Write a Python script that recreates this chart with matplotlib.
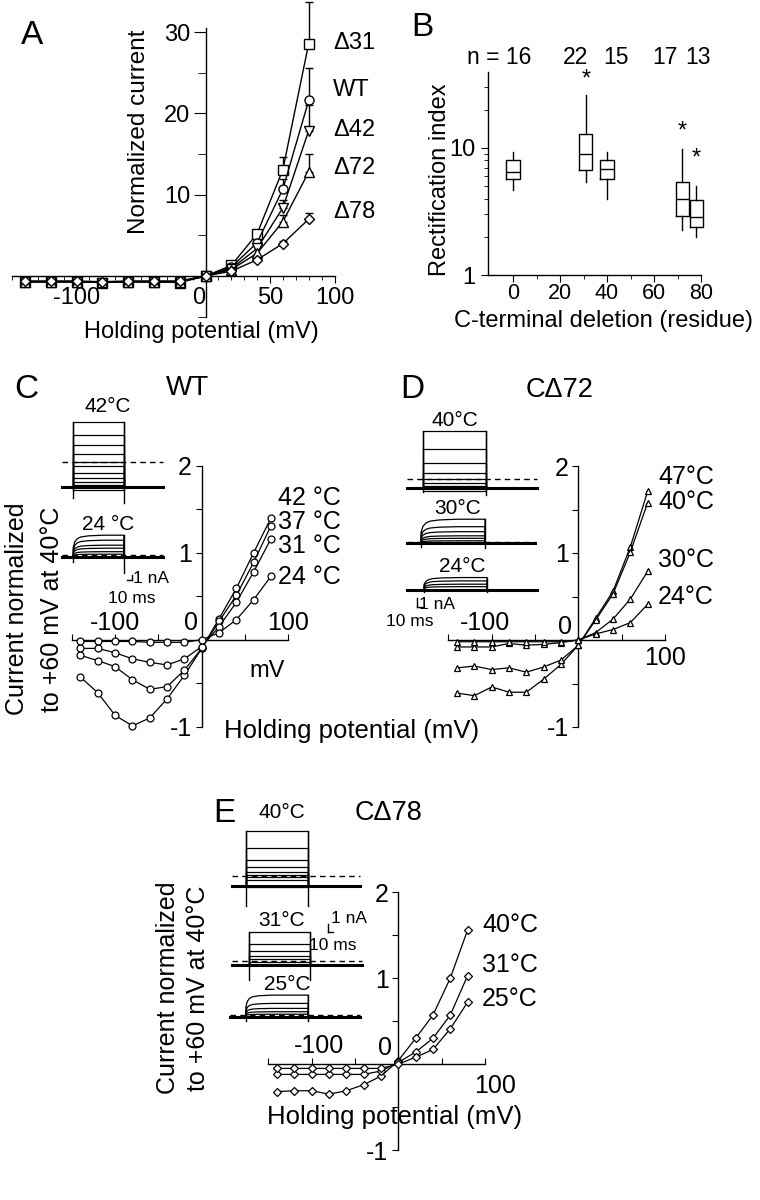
import matplotlib
matplotlib.use('Agg')
import matplotlib.pyplot as plt

plt.rcParams['font.family'] = ['Liberation Sans', 'DejaVu Sans']
plt.rcParams['axes.unicode_minus'] = False
plt.rcParams['axes.linewidth'] = 1.0

# ---------------- data ----------------
volt = [-140, -120, -100, -80, -60, -40, -20, 0, 20, 40, 60, 80]

# A: normalized current vs holding potential
a_names = ['Δ31', 'WT', 'Δ42', 'Δ72', 'Δ78']
a_markers = ['s', 'o', 'v', '^', 'D']
a_d31 = [-0.7, -0.7, -0.7, -0.8, -0.7, -0.7, -0.8, 0.0, 1.3, 5.2, 13.1, 28.6]
a_wt = [-0.7, -0.7, -0.7, -0.8, -0.7, -0.7, -0.7, 0.0, 1.1, 4.1, 10.7, 21.6]
a_d42 = [-0.7, -0.7, -0.7, -0.8, -0.7, -0.7, -0.7, 0.0, 0.9, 3.4, 8.4, 17.9]
a_d72 = [-0.7, -0.7, -0.7, -0.7, -0.7, -0.7, -0.7, 0.0, 0.8, 2.8, 6.7, 12.8]
a_d78 = [-0.6, -0.6, -0.6, -0.7, -0.6, -0.6, -0.6, 0.0, 0.6, 2.0, 4.0, 7.0]
a_err60 = [1.6, 1.2, 1.0, 0.8, 0.3]
a_err80 = [5.1, 4.0, 3.1, 2.2, 0.8]

# B: rectification index box plots
b_pos = [0, 31, 40, 72, 78]
b_whislo = [4.65, 5.4, 3.95, 2.26, 2.0]
b_q1 = [5.74, 6.68, 5.67, 2.91, 2.4]
b_med = [6.44, 9.0, 6.8, 3.95, 2.87]
b_q3 = [8.0, 12.97, 8.1, 5.41, 3.88]
b_whishi = [9.3, 26.2, 9.3, 9.88, 5.0]
b_star = [None, 34.4, None, 13.4, 8.25]
b_n = ['n = 16', '22', '15', '17', '13']

# C: WT at several temperatures
c_temps = ['42 °C', '37 °C', '31 °C', '24 °C']
c42 = [-0.43, -0.61, -0.87, -0.99, -0.90, -0.68, -0.41, -0.10, 0.24, 0.59, 1.00, 1.40]
c37 = [-0.18, -0.24, -0.31, -0.46, -0.57, -0.54, -0.35, -0.10, 0.21, 0.51, 0.89, 1.31]
c31 = [-0.10, -0.10, -0.15, -0.22, -0.26, -0.29, -0.22, -0.08, 0.15, 0.43, 0.78, 1.16]
c24 = [-0.02, -0.02, -0.02, -0.02, -0.03, -0.03, -0.03, 0.0, 0.08, 0.23, 0.46, 0.73]

# D: C-delta72
d_temps = ['47°C', '40°C', '30°C', '24°C']
d47 = [-0.61, -0.64, -0.54, -0.60, -0.60, -0.45, -0.28, -0.06, 0.25, 0.56, 1.07, 1.71]
d40 = [-0.32, -0.30, -0.34, -0.32, -0.37, -0.31, -0.23, -0.06, 0.23, 0.53, 1.01, 1.58]
d30 = [-0.08, -0.08, -0.08, -0.04, -0.06, -0.05, -0.03, 0.0, 0.085, 0.24, 0.47, 0.79]
d24 = [-0.02, -0.02, -0.02, -0.02, -0.02, -0.02, -0.02, 0.0, 0.07, 0.12, 0.20, 0.41]

# E: C-delta78
e_temps = ['40°C', '31°C', '25°C']
e40 = [-0.32, -0.31, -0.31, -0.35, -0.31, -0.24, -0.14, 0.04, 0.30, 0.57, 1.00, 1.56]
e31 = [-0.12, -0.12, -0.12, -0.12, -0.12, -0.12, -0.08, 0.02, 0.14, 0.30, 0.57, 1.03]
e25 = [-0.05, -0.05, -0.05, -0.05, -0.05, -0.05, -0.05, 0.0, 0.08, 0.17, 0.41, 0.72]

# current trace families: steady step levels (nA above holding baseline)
c42_levels = [12.9, 10.3, 8.3, 6.5, 4.9, 4.1, 2.7, 1.7, 1.0, 0.3, -0.6]
c24_levels = [4.3, 3.3, 2.3, 1.7, 1.0, 0.5]
d40_levels = [6.9, 4.7, 3.1, 1.9, 1.1, 0.6, 0.3, -0.3]
d30_levels = [2.9, 2.0, 1.4, 0.9, 0.6, 0.3]
d24_levels = [1.5, 1.1, 0.7, 0.4]
e40_levels = [6.6, 4.6, 3.1, 2.3, 1.7, 1.3, 1.0, 0.7, -0.2]
e31_levels = [4.0, 2.5, 1.7, 1.1, 0.7, 0.4]
e25_levels = [2.6, 1.6, 1.0, 0.6, 0.3]
# activation time course (fraction of steady level vs ms after onset)
rise_ms = [0, 3, 8, 15, 30, 60]
rise_frac = [0.45, 0.7, 0.84, 0.92, 0.97, 1.0]

# ---------------- figure ----------------
W, H = 760, 1200
fig = plt.figure(figsize=(7.6, 12), dpi=100)


def box(l, t, r, b):
    return [l / W, 1 - b / H, (r - l) / W, (b - t) / H]


def ftext(x, y, s, size=17, **kw):
    kw.setdefault('ha', 'center')
    kw.setdefault('va', 'center')
    fig.text(x / W, 1 - y / H, s, fontsize=size, **kw)


def clean(ax):
    ax.patch.set_visible(False)
    ax.spines['top'].set_visible(False)
    ax.spines['right'].set_visible(False)


# ---- A ----
axA = fig.add_axes(box(12, -0.4, 334.5, 316.7))
clean(axA)
axA.set_xlim(-150, 100)
axA.set_ylim(-5, 34)
axA.spines['left'].set_position(('data', 0))
axA.spines['bottom'].set_position(('data', 0))
axA.spines['left'].set_bounds(-5, 30.5)
axA.set_xticks([-100, 0, 50, 100])
axA.set_xticklabels(['-100', '0', '50', '100'])
axA.set_xticks(range(-150, 101, 10), minor=True)
axA.set_yticks([10, 20, 30])
axA.set_yticks([-5, 5, 15, 25], minor=True)
axA.tick_params(axis='x', which='major', direction='out', length=5, labelsize=17, pad=3)
axA.tick_params(axis='x', which='minor', direction='out', length=3)
axA.tick_params(axis='y', which='major', direction='out', length=9, labelsize=17, pad=2)
axA.tick_params(axis='y', which='minor', direction='out', length=6)
axA.get_xticklabels()[1].set_ha('right')
a_series = [a_d31, a_wt, a_d42, a_d72, a_d78]
for i, ys in enumerate(a_series):
    axA.errorbar([60, 80], [ys[10], ys[11]], yerr=[[0, 0], [a_err60[i], a_err80[i]]],
                 fmt='none', ecolor='k', elinewidth=1, capsize=3, capthick=1, clip_on=False)
    ms = 5.5 if a_markers[i] == 'D' else 6.5
    axA.plot(volt, ys, '-', color='k', lw=1, marker=a_markers[i], ms=ms, mfc='white',
             mec='k', mew=1, clip_on=False, zorder=3)
for name, y in zip(a_names, [42.7, 90, 130, 168.3, 211.7]):
    ftext(333, y, name, 17, ha='left')
ftext(139, 132, 'Normalized current', 17.5, rotation=90)
ftext(201, 332, 'Holding potential (mV)', 17)
ftext(32, 36, 'A', 24)

# ---- B ----
axB = fig.add_axes(box(488.1, 71.5, 705.7, 275))
clean(axB)
axB.set_yscale('log')
axB.set_xlim(-10.6, 82)
axB.set_ylim(1, 40)
axB.spines['bottom'].set_bounds(-10.6, 80)
stats = [dict(med=m, q1=q1, q3=q3, whislo=lo, whishi=hi, fliers=[])
         for m, q1, q3, lo, hi in zip(b_med, b_q1, b_q3, b_whislo, b_whishi)]
axB.bxp(stats, positions=b_pos, widths=5.6, showcaps=False, showfliers=False,
        boxprops=dict(color='k', lw=1), medianprops=dict(color='k', lw=1),
        whiskerprops=dict(color='k', lw=1), manage_ticks=False)
for x, s in zip(b_pos, b_star):
    if s is not None:
        axB.text(x, s, '*', fontsize=17, ha='center', va='center', clip_on=False)
axB.set_xticks([0, 20, 40, 60, 80])
axB.set_xticks([10, 30, 50, 70], minor=True)
axB.set_yticks([1, 10])
axB.set_yticklabels(['1', '10'])
axB.set_yticks([2, 3, 4, 5, 6, 7, 8, 9, 20, 30], minor=True)
axB.yaxis.set_minor_formatter(plt.NullFormatter())
axB.tick_params(axis='y', which='major', direction='out', length=5, labelsize=17, pad=4)
axB.tick_params(axis='x', which='major', direction='out', length=5, labelsize=15.5, pad=1)
axB.tick_params(axis='both', which='minor', direction='out', length=3)
for s, x in zip(b_n, [499, 576, 616, 665, 698]):
    ftext(x, 57, s, 16.5)
ftext(440, 180, 'Rectification index', 17, rotation=90)
ftext(603, 321, 'C-terminal deletion (residue)', 17)
ftext(422, 27, 'B', 24)


# ---- I-V panels C, D, E ----
def iv_axes(rect, marker, curves, ms):
    ax = fig.add_axes(rect)
    clean(ax)
    ax.set_xlim(-150, 100)
    ax.set_ylim(-1, 2)
    ax.spines['left'].set_position(('data', 0))
    ax.spines['bottom'].set_position(('data', 0))
    ax.set_xticks([-150, -100, -50, 50, 100])
    ax.set_xticklabels([])
    ax.set_yticks([-1, -0.5, 0, 0.5, 1, 1.5, 2])
    ax.set_yticklabels(['-1', '', '', '', '1', '', '2'])
    ax.tick_params(axis='x', direction='in', length=4)
    ax.tick_params(axis='y', direction='out', length=4, labelsize=18, pad=3)
    for ys in curves:
        ax.plot(volt, ys, '-', color='k', lw=0.9, marker=marker, ms=ms, mfc='white',
                mec='k', mew=0.9, clip_on=False, zorder=3)
    return ax


def trace_family(x0, base, pms, pna, t_on, t_off, t_end, levels, zero, spikes, slow):
    top = max(levels) + 0.4
    bot = min(min(levels), spikes[0], spikes[1]) - 0.4
    ax = fig.add_axes(box(x0, base - top * pna, x0 + t_end * pms, base - bot * pna))
    ax.set_xlim(0, t_end)
    ax.set_ylim(bot, top)
    ax.axis('off')
    for lev in levels:
        if slow and lev > 0:
            ts = [0, t_on] + [t_on + r for r in rise_ms] + [t_off, t_off, t_end]
            ys = [0, 0] + [lev * f for f in rise_frac] + [lev, 0, 0]
        else:
            ts = [0, t_on, t_on, t_off, t_off, t_end]
            ys = [0, 0, lev, lev, 0, 0]
        ax.plot(ts, ys, color='k', lw=0.9, clip_on=False)
    hi = max(levels)
    ax.plot([t_on, t_on], [spikes[0], hi * (rise_frac[0] if slow else 1)], color='k', lw=1, clip_on=False)
    ax.plot([t_off, t_off], [spikes[1], hi], color='k', lw=1, clip_on=False)
    ax.plot([0, t_end], [0, 0], color='k', lw=2.2, clip_on=False)
    if zero is not None:
        ax.plot([0, t_end], [zero, zero], color='k', lw=1, ls=(0, (4, 3)), clip_on=False)
    return ax


def scale_bar(ax, t0, y0, bar_right, nA_xy, ms_xy):
    tv = t0 + 10 if bar_right else t0
    ax.plot([t0, t0 + 10], [y0, y0], color='k', lw=1, clip_on=False)
    ax.plot([tv, tv], [y0, y0 + 1], color='k', lw=1, clip_on=False)
    ax.text(nA_xy[0], nA_xy[1], '1 nA', fontsize=12.5, ha='left', va='center', clip_on=False)
    ax.text(ms_xy[0], ms_xy[1], '10 ms', fontsize=12.5, ha='center', va='center', clip_on=False)


# C
axC = iv_axes(box(71.8, 465.7, 288.3, 726.7), 'o', [c42, c37, c31, c24], 5)
axC.text(-100, 0.19, '-100', fontsize=18, ha='center', va='center')
axC.text(100, 0.19, '100', fontsize=18, ha='center', va='center')
axC.text(-12, 0.19, '0', fontsize=18, ha='center', va='center')
axC.text(75, -0.36, 'mV', fontsize=17, ha='center', va='center')
for s, y in zip(c_temps, [498.3, 521.7, 545.7, 577.3]):
    ftext(278, y, s, 18, ha='left')
trace_family(61.7, 486.7, 0.505, 5, 23, 123, 200, c42_levels, 4.9, (-2.3, -3.3), False)
axc2 = trace_family(61.7, 556.7, 0.505, 5, 23, 123, 200, c24_levels, 0.3, (-1.0, -3.3), True)
scale_bar(axc2, 128.7, -4.7, True, (141, -4.3), (139, -8.3))
ftext(108, 407, '42°C', 15)
ftext(108, 525, '24 °C', 15)
ftext(188, 388, 'WT', 20)
ftext(17, 609, 'Current normalized', 18, rotation=90)
ftext(52, 609, 'to +60 mV at 40°C', 18, rotation=90)
ftext(352, 731, 'Holding potential (mV)', 18.5)
ftext(26, 390, 'C', 24)

# D
axD = iv_axes(box(448.4, 466, 665, 727), '^', [d47, d40, d30, d24], 5)
axD.text(-108, 0.19, '-100', fontsize=18, ha='center', va='center')
axD.text(100, -0.21, '100', fontsize=18, ha='center', va='center')
axD.text(-15, 0.15, '0', fontsize=18, ha='center', va='center')
for s, y in zip(d_temps, [476.7, 501.7, 560, 596.7]):
    ftext(658, y, s, 18, ha='left')
trace_family(406.7, 488.3, 0.6, 8.3, 26.7, 132, 217, d40_levels, 1.1, (-0.5, -0.8), False)
trace_family(406.7, 543.3, 0.6, 8.3, 24, 130.5, 214, d30_levels, 0.15, (-0.4, -0.6), True)
axd3 = trace_family(406.7, 590, 0.6, 8.3, 29, 134, 217, d24_levels, None, (-0.2, -0.3), True)
scale_bar(axd3, 17.7, -2.0, False, (21, -1.7), (5.5, -3.8))
ftext(455, 420, '40°C', 15)
ftext(458, 508, '30°C', 15)
ftext(462, 567, '24°C', 15)
ftext(560, 390, 'CΔ72', 19.5)
ftext(412, 390, 'D', 24)

# E
axE = iv_axes(box(268.4, 892.3, 484.9, 1150), 'D', [e40, e31, e25], 4.5)
axE.text(-92, 0.21, '-100', fontsize=18, ha='center', va='center')
axE.text(112, -0.25, '100', fontsize=18, ha='center', va='center')
axE.text(-15, 0.19, '0', fontsize=18, ha='center', va='center')
for s, y in zip(e_temps, [925, 965, 999.3]):
    ftext(482, y, s, 18, ha='left')
trace_family(231.7, 885.7, 0.43, 8.3, 33, 178, 298, e40_levels, 1.17, (-2.5, -2.5), False)
axe2 = trace_family(231.7, 965, 0.43, 8.3, 41, 182, 302, e31_levels, 0.5, (-1.8, -1.8), False)
trace_family(230, 1016.7, 0.43, 8.3, 37, 182, 302, e25_levels, 0.2, (-0.5, -0.5), True)
scale_bar(axe2, 224.7, 4.0, False, (231, 5.6), (234, 2.4))
ftext(282, 813, '40°C', 15)
ftext(282, 920, '31°C', 15)
ftext(287, 985, '25°C', 15)
ftext(388, 813, 'CΔ78', 19.5)
ftext(168, 988, 'Current normalized', 18, rotation=90)
ftext(198, 988, 'to +60 mV at 40°C', 18, rotation=90)
ftext(395, 1117, 'Holding potential (mV)', 18.5)
ftext(224, 813, 'E', 24)

fig.savefig('out.png', dpi=100)
